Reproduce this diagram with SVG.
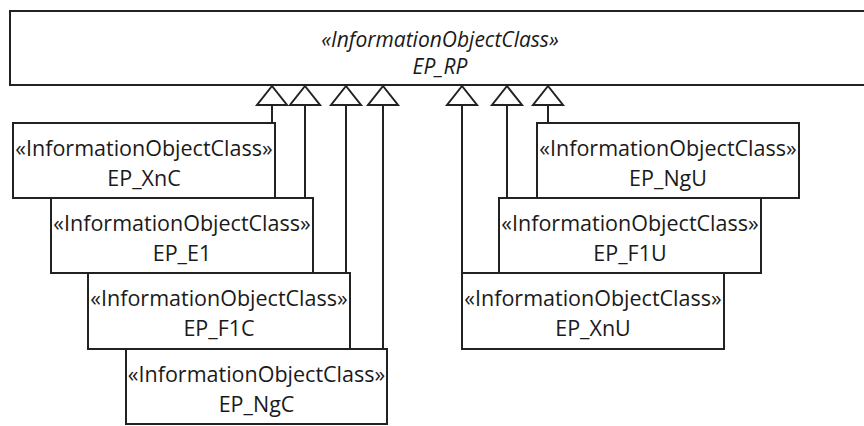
<svg xmlns="http://www.w3.org/2000/svg" width="864" height="426" viewBox="0 0 864 426">
<style>
.box{fill:#fff;stroke:#222;stroke-width:2}
.t{font-family:"Open Sans","Noto Sans","DejaVu Sans",sans-serif;font-size:21.5px;fill:#1a1a1a;text-anchor:middle}
.it{font-style:italic;font-size:21px}
.ln{fill:none;stroke:#222;stroke-width:2}
.tri{fill:#fff;stroke:#222;stroke-width:2;stroke-linejoin:miter}
</style>
<rect width="864" height="426" fill="#fff"/>
<g id="EP_RP">
<rect class="box" x="10" y="11" width="870" height="74"/>
<text class="t it" x="440" y="47">«InformationObjectClass»</text>
<text class="t it" x="440" y="74">EP_RP</text>
</g>
<g id="connectors">
<path class="ln" d="M272 123V105M305 198V105M346 273V105M383 349V105M462 273V105M507 198V105M548 123V105"/>
<polygon class="tri" points="272,86 257,105 287,105"/>
<polygon class="tri" points="305,86 290,105 320,105"/>
<polygon class="tri" points="346,86 331,105 361,105"/>
<polygon class="tri" points="383,86 368,105 398,105"/>
<polygon class="tri" points="462,86 447,105 477,105"/>
<polygon class="tri" points="507,86 492,105 522,105"/>
<polygon class="tri" points="548,86 533,105 563,105"/>
</g>
<g id="EP_XnC">
<rect class="box" x="13" y="123" width="262" height="75"/>
<text class="t" x="144" y="156">«InformationObjectClass»</text>
<text class="t" x="144" y="186">EP_XnC</text>
</g>
<g id="EP_E1">
<rect class="box" x="51" y="198" width="262" height="75"/>
<text class="t" x="182" y="231">«InformationObjectClass»</text>
<text class="t" x="182" y="261">EP_E1</text>
</g>
<g id="EP_F1C">
<rect class="box" x="88" y="273" width="262" height="76"/>
<text class="t" x="219" y="306">«InformationObjectClass»</text>
<text class="t" x="219" y="336">EP_F1C</text>
</g>
<g id="EP_NgC">
<rect class="box" x="126" y="349" width="261" height="75"/>
<text class="t" x="256.5" y="382">«InformationObjectClass»</text>
<text class="t" x="256.5" y="412">EP_NgC</text>
</g>
<g id="EP_NgU">
<rect class="box" x="537" y="123" width="262" height="75"/>
<text class="t" x="668" y="156">«InformationObjectClass»</text>
<text class="t" x="668" y="186">EP_NgU</text>
</g>
<g id="EP_F1U">
<rect class="box" x="499" y="198" width="262" height="75"/>
<text class="t" x="630" y="231">«InformationObjectClass»</text>
<text class="t" x="630" y="261">EP_F1U</text>
</g>
<g id="EP_XnU">
<rect class="box" x="462" y="273" width="262" height="76"/>
<text class="t" x="593" y="306">«InformationObjectClass»</text>
<text class="t" x="593" y="336">EP_XnU</text>
</g>
</svg>
